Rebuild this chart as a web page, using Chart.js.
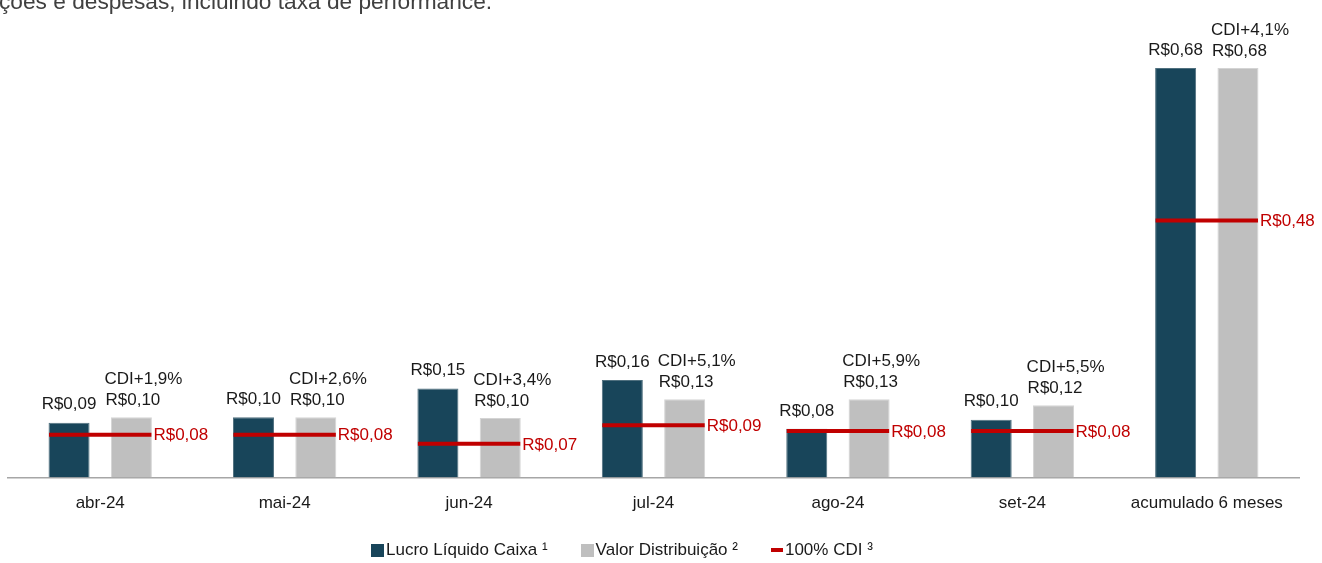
<!DOCTYPE html>
<html>
<head>
<meta charset="utf-8">
<script src="https://cdn.jsdelivr.net/npm/chart.js@4/dist/chart.umd.min.js"></script>
<style>
  html, body { margin: 0; padding: 0; background: #fff; overflow: hidden; }
  #wrap { position: relative; width: 1322px; height: 563px; }
  #caption {
    position: absolute; left: -1px; top: -10px;
    font: 22.7px/22px "Liberation Sans", Arial, sans-serif; color: #404040;
    white-space: nowrap;
  }
  #legend {
    position: absolute; left: 371px; top: 540px; height: 20px;
    display: flex; align-items: center;
    font: 17px/20px "Liberation Sans", Arial, sans-serif; color: #1a1a1a;
  }
  #legend .item { display: flex; align-items: center; margin-right: 33px; }
  #legend .sw { display: inline-block; margin-right: 2px; }
</style>
</head>
<body>
<div id="wrap">
  <canvas id="chart" width="1322" height="563"></canvas>
  <div id="caption">ções e despesas, incluindo taxa de performance.</div>
  <div id="legend"></div>
</div>
<script>
const categories = ['abr-24', 'mai-24', 'jun-24', 'jul-24', 'ago-24', 'set-24', 'acumulado 6 meses'];
const lucroLiquido = [0.091, 0.100, 0.148, 0.162, 0.081, 0.096, 0.680];
const valorDistribuicao = [0.100, 0.100, 0.099, 0.130, 0.130, 0.120, 0.680];
const spreadLabels = ['CDI+1,9%', 'CDI+2,6%', 'CDI+3,4%', 'CDI+5,1%', 'CDI+5,9%', 'CDI+5,5%', 'CDI+4,1%'];
const cdi100 = [0.080, 0.080, 0.063, 0.098, 0.087, 0.087, 0.480];
const cdiLabels = ['R$0,08', 'R$0,08', 'R$0,07', 'R$0,09', 'R$0,08', 'R$0,08', 'R$0,48'];

const DARK = '#18455A';
const GRAY = '#BFBFBF';
const RED = '#C00000';
const TEXT = '#1a1a1a';
const FONT = '"Liberation Sans", Arial, sans-serif';

function brl(v) {
  return 'R$' + v.toFixed(2).replace('.', ',');
}

const labelPlugin = {
  id: 'barLabels',
  afterDatasetsDraw(chart) {
    const ctx = chart.ctx;
    ctx.save();
    ctx.font = '17px ' + FONT;
    ctx.textBaseline = 'middle';
    ctx.fillStyle = TEXT;

    ctx.textAlign = 'center';
    chart.getDatasetMeta(0).data.forEach((bar, i) => {
      ctx.fillText(brl(lucroLiquido[i]), bar.x, bar.y - 18);
    });

    // value centred on the bar, spread line left-aligned with it
    chart.getDatasetMeta(1).data.forEach((bar, i) => {
      const txt = brl(valorDistribuicao[i]);
      const left = bar.x + 1.5 - ctx.measureText(txt).width / 2;
      ctx.textAlign = 'left';
      ctx.fillText(txt, left, bar.y - 17);
      ctx.fillText(spreadLabels[i], left - 1, bar.y - 38);
    });

    ctx.fillStyle = RED;
    ctx.textAlign = 'left';
    chart.getDatasetMeta(2).data.forEach((pt, i) => {
      const r = pt.options.radius;
      ctx.fillText(cdiLabels[i], pt.x + r + 2, pt.y + 1);
    });
    ctx.restore();
  }
};

const chart = new Chart(document.getElementById('chart').getContext('2d'), {
  data: {
    labels: categories,
    datasets: [
      {
        type: 'bar',
        label: 'Lucro Líquido Caixa ¹',
        data: lucroLiquido,
        backgroundColor: DARK,
        borderColor: '#50707f',
        borderWidth: 1,
        categoryPercentage: 0.676,
        barPercentage: 0.658,
        yAxisID: 'y'
      },
      {
        type: 'bar',
        label: 'Valor Distribuição ²',
        data: valorDistribuicao,
        backgroundColor: GRAY,
        borderColor: '#d4d4d4',
        borderWidth: 1,
        categoryPercentage: 0.676,
        barPercentage: 0.658,
        yAxisID: 'y'
      },
      {
        type: 'line',
        label: '100% CDI ³',
        data: cdi100,
        showLine: false,
        pointStyle: 'line',
        pointRadius: 51.2,
        pointHoverRadius: 51.2,
        pointBorderWidth: 4,
        pointBorderColor: RED,
        pointBackgroundColor: RED,
        borderColor: RED,
        backgroundColor: RED,
        clip: false,
        order: -1,
        yAxisID: 'y2'
      }
    ]
  },
  options: {
    responsive: false,
    animation: false,
    events: [],
    layout: { autoPadding: false, padding: { left: 8, right: 23, top: 56, bottom: 33 } },
    plugins: {
      legend: { display: false },
      tooltip: { enabled: false }
    },
    scales: {
      x: {
        grid: { display: false, drawTicks: false },
        border: { display: true, color: '#a6a6a6', width: 1.5 },
        ticks: { color: TEXT, font: { size: 17, family: FONT }, padding: 16, maxRotation: 0 },
        afterFit(scale) {
          scale.paddingLeft = 0;
          scale.paddingRight = 0;
        }
      },
      y: { display: false, min: 0, max: 0.70 },
      y2: { display: false, min: 0, max: 0.7875 }
    }
  },
  plugins: [labelPlugin]
});

// legend built from the chart's datasets
const legendEl = document.getElementById('legend');
chart.data.datasets.forEach(ds => {
  const item = document.createElement('span');
  item.className = 'item';
  const sw = document.createElement('span');
  sw.className = 'sw';
  if (ds.type === 'line') {
    sw.style.width = '12px';
    sw.style.height = '4px';
    sw.style.background = ds.pointBorderColor;
  } else {
    sw.style.width = '13px';
    sw.style.height = '13px';
    sw.style.background = ds.backgroundColor;
  }
  item.appendChild(sw);
  item.appendChild(document.createTextNode(ds.label));
  legendEl.appendChild(item);
});
</script>
</body>
</html>
